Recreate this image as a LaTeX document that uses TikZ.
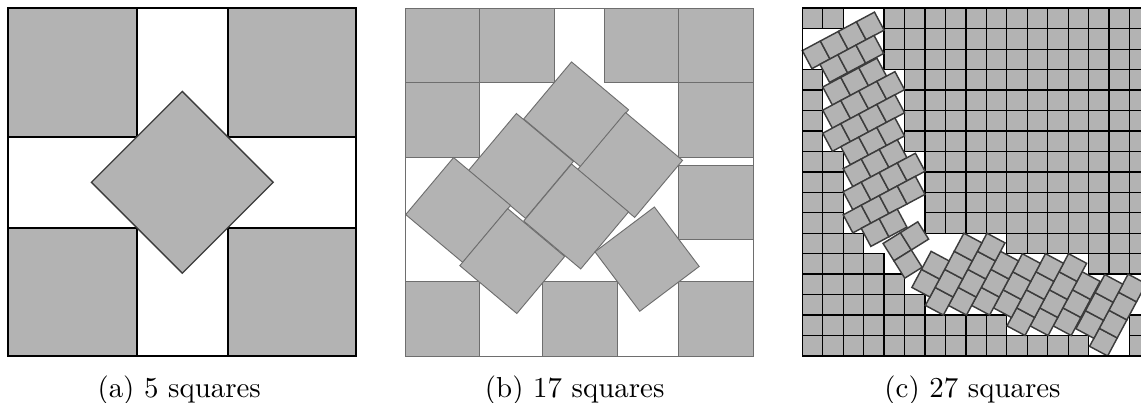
\documentclass[tikz,border=0pt]{standalone}
\definecolor{sqfill}{RGB}{179,179,179}
\definecolor{bedge}{RGB}{110,110,110}
\definecolor{dedge}{RGB}{60,60,60}
% tilted unit square: centre (#2,#3), edge direction #4 (screen, clockwise)
\newcommand\tsq[4][]{%
  \draw[#1] ({#2+0.5*cos(#4)+0.5*sin(#4)},{#3+0.5*sin(#4)-0.5*cos(#4)})
    -- ({#2+0.5*cos(#4)-0.5*sin(#4)},{#3+0.5*sin(#4)+0.5*cos(#4)})
    -- ({#2-0.5*cos(#4)-0.5*sin(#4)},{#3-0.5*sin(#4)+0.5*cos(#4)})
    -- ({#2-0.5*cos(#4)+0.5*sin(#4)},{#3-0.5*sin(#4)-0.5*cos(#4)}) -- cycle;}
\pgfmathsetmacro\cA{cos(28.07)}
\pgfmathsetmacro\sA{sin(28.07)}
% strip of #3 tilted squares from left corner (#1,#2), plus its mirror image
\newcommand\stripsq[3]{%
  \foreach \k in {1,...,#3}{%
    \pgfmathsetmacro\xa{#1+(\k-1)*\cA}%
    \pgfmathsetmacro\ya{#2-(\k-1)*\sA}%
    \draw[ctilt] (\xa,\ya) -- ++(\cA,-\sA) -- ++(\sA,\cA) -- ++(-\cA,\sA) -- cycle;
    \draw[ctilt] ({17-\ya},{17-\xa}) -- ++(\sA,-\cA) -- ++(-\cA,-\sA) -- ++(-\sA,\cA) -- cycle;
  }}
\begin{document}
\begin{tikzpicture}[x=0.346pt,y=-0.346pt,
  asq/.style={fill=sqfill,draw=black,line width=0.62pt},
  adia/.style={fill=sqfill,draw=dedge,line width=0.45pt},
  abox/.style={draw=black,line width=0.65pt},
  bsq/.style={fill=sqfill,draw=bedge,line width=0.32pt},
  bbox/.style={draw=bedge,line width=0.35pt},
  ccell/.style={fill=sqfill,draw=black,line width=0.45pt},
  ctilt/.style={fill=sqfill,draw=dedge,line width=0.5pt},
  cbox/.style={draw=black,line width=0.55pt},
  captext/.style={anchor=base,inner sep=0pt}]
\useasboundingbox (0,0) rectangle (1141,403);
\fill[white] (0,0) rectangle (1141,403);

% ---------- (a) ----------
\begin{scope}[shift={(8.3,8.3)}]
  \draw[asq] (0,0) rectangle (128.6,128.6);
  \draw[asq] (219.4,0) rectangle (348,128.6);
  \draw[asq] (0,219.4) rectangle (128.6,348);
  \draw[asq] (219.4,219.4) rectangle (348,348);
  \draw[adia] (83.1,174) -- (174,83.1) -- (264.9,174) -- (174,264.9) -- cycle;
  \draw[abox] (0,0) rectangle (348,348);
\end{scope}

% ---------- (b) ----------
\begin{scope}[shift={(405.3,8.3)},x=25.753pt,y=-25.753pt]
  \foreach \px/\py in {0/0,1/0,2.6756/0,3.6756/0,0/1,3.6756/1,3.6756/2.105,0/3.6756,1.845/3.6756,3.6756/3.6756}
    \draw[bsq] (\px,\py) rectangle ++(1,1);
  \tsq[bsq]{2.295}{1.425}{40}
  \tsq[bsq]{3.02}{2.105}{40}
  \tsq[bsq]{1.554}{2.118}{40}
  \tsq[bsq]{2.295}{2.797}{40}
  \tsq[bsq]{0.71}{2.71}{40}
  \tsq[bsq]{1.437}{3.396}{40}
  \tsq[bsq]{3.248}{3.37}{53}
  \draw[bbox] (0,0) rectangle (4.6756,4.6756);
\end{scope}

% ---------- (c) ----------
\begin{scope}[shift={(802.3,8.3)},x=7.0757pt,y=-7.0757pt]
  \clip (-0.5,-0.5) rectangle (16.563,17.5);
  \foreach \r/\a/\b in {0/0/1,0/4/16,1/4/16,2/4/16,
      3/0/0,3/5/16,4/0/0,4/5/16,5/0/0,5/5/16,6/0/0,6/5/16,
      7/0/1,7/6/16,8/0/1,8/6/16,9/0/1,9/6/16,10/0/1,10/6/16,
      11/0/2,11/10/16,12/0/3,12/14/16,13/0/4,14/0/5,
      15/0/9,15/16/16,16/0/13,16/16/16}
    \foreach \c in {\a,...,\b}
      \draw[ccell] (\c,\r) rectangle ++(1,1);
  \stripsq{0}{2.07}{4}
  \stripsq{0.861}{2.74}{3}
  \stripsq{1}{3.85}{3}
  \stripsq{1}{4.98}{4}
  \stripsq{1}{6.11}{4}
  \stripsq{1.88}{6.77}{3}
  \stripsq{2}{7.84}{3}
  \stripsq{2}{8.97}{4}
  \stripsq{2}{10.10}{4}
  \stripsq{2.88}{10.76}{2}
  % small group of three on the diagonal
  \foreach \i/\j in {0/0,1/0,0/1}
    \draw[ctilt] ({3.95+\i*0.848+\j*0.53},{11.5-\i*0.53+\j*0.848})
      -- ++(0.848,-0.53) -- ++(0.53,0.848) -- ++(-0.848,0.53) -- cycle;
  \draw[cbox] (0,0) rectangle (17,17);
\end{scope}

% ---------- captions ----------
\node[captext] (capa) at (179.2,398) {(a) 5 squares};
\node[captext] (capb) at (574.7,398) {(b) 17 squares};
\node[captext] (capc) at (972.5,398) {(c) 27 squares};
\end{tikzpicture}
\end{document}
